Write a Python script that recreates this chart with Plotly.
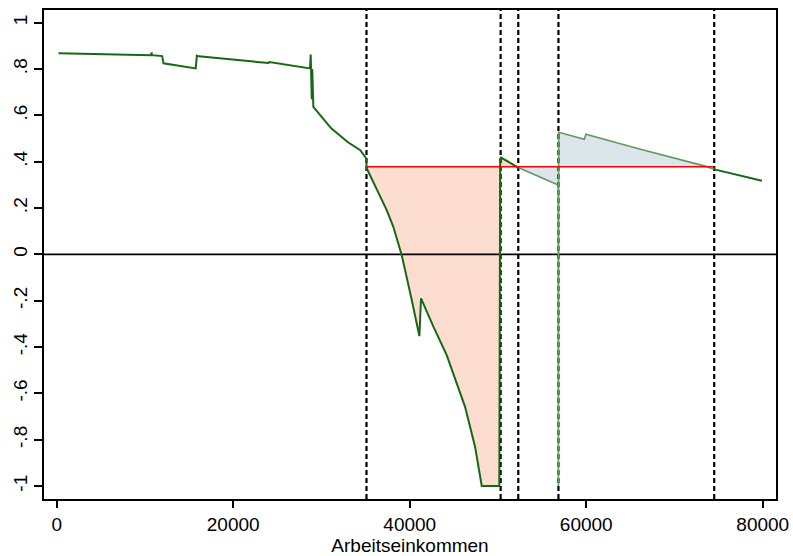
import numpy as np
import plotly.graph_objects as go

# Replacement-rate curve over labour income
income = [200, 5000, 10700, 10750, 10800, 11950, 12100, 15750, 15880, 16100,
          24000, 24100, 28700, 28780, 28820, 28860, 28900, 28950, 29000, 29080,
          31100, 33000, 34400, 35050, 35120, 37390, 38140, 39090, 40230, 41090,
          41280, 42680, 44190, 46270, 47400, 48160, 50150, 50250, 50350, 52100,
          55900, 56820, 56850, 56880, 59780, 59960, 65720, 73460, 74520, 79900]
rate = [0.868, 0.865, 0.860, 0.872, 0.860, 0.856, 0.825, 0.803, 0.858, 0.855,
        0.826, 0.830, 0.803, 0.863, 0.690, 0.840, 0.670, 0.800, 0.660, 0.637,
        0.544, 0.484, 0.450, 0.415, 0.372, 0.191, 0.119, -0.003, -0.197, -0.353,
        -0.190, -0.312, -0.435, -0.658, -0.830, -1.000, -1.000, 0.412, 0.418, 0.378,
        0.314, 0.299, -1.000, 0.527, 0.497, 0.519, 0.458, 0.381, 0.367, 0.318]

# Income thresholds (dashed lines) and reference level
cutoffs = [35100, 50300, 52300, 56850, 74500]
ref_level = 0.378

x_ticks = [0, 20000, 40000, 60000, 80000]
y_ticks = [1, 0.8, 0.6, 0.4, 0.2, 0, -0.2, -0.4, -0.6, -0.8, -1]
y_labels = ["1", ".8", ".6", ".4", ".2", "0", "-.2", "-.4", "-.6", "-.8", "-1"]

X_RANGE = [-1440, 81500]
Y_RANGE = [-1.056, 1.055]

DARK_GREEN = "rgb(22,104,22)"
LIGHT_GREEN = "rgb(95,155,95)"
SALMON = "rgb(253,221,207)"
BLUEGRAY = "rgb(221,229,236)"

xs = np.array(income, dtype=float)
ys = np.array(rate, dtype=float)


def segment(lo, hi):
    """Curve points between lo and hi, with interpolated end points."""
    mask = (xs > lo) & (xs < hi)
    sx = np.concatenate([[lo], xs[mask], [hi]])
    sy = np.concatenate([[np.interp(lo, xs, ys)], ys[mask], [np.interp(hi, xs, ys)]])
    return sx, sy


def line(x, y, color, width, dash=None):
    return go.Scatter(x=x, y=y, mode="lines", hoverinfo="skip", showlegend=False,
                      line=dict(color=color, width=width, dash=dash))


fig = go.Figure()

# Shaded gaps between the curve and the reference level
regions = [(cutoffs[0], cutoffs[2], SALMON, DARK_GREEN),
           (cutoffs[2], cutoffs[4], BLUEGRAY, LIGHT_GREEN)]
for lo, hi, fillc, _ in regions:
    fig.add_trace(line([lo, hi], [ref_level, ref_level], "rgba(0,0,0,0)", 0))
    sx, sy = segment(lo, hi)
    fig.add_trace(go.Scatter(x=sx, y=sy, mode="lines", fill="tonexty",
                             fillcolor=fillc, line=dict(width=0),
                             hoverinfo="skip", showlegend=False))

# Zero line
fig.add_trace(line(X_RANGE, [0, 0], "black", 1.6))

# Threshold markers
for c in cutoffs:
    fig.add_trace(line([c, c], Y_RANGE, "black", 2.2, "5px,3px"))

# Curve: dark outside the blue range, lighter inside it
mask_left = xs < cutoffs[2]
lx = np.concatenate([xs[mask_left], [cutoffs[2]]])
ly = np.concatenate([ys[mask_left], [np.interp(cutoffs[2], xs, ys)]])
fig.add_trace(line(lx, ly, DARK_GREEN, 2))
mx, my = segment(cutoffs[2], cutoffs[4])
fig.add_trace(line(mx, my, LIGHT_GREEN, 1.6))
rx, ry = segment(cutoffs[4], xs[-1])
fig.add_trace(line(rx, ry, DARK_GREEN, 2))

# Reference level line
fig.add_trace(line([cutoffs[0], cutoffs[4]], [ref_level, ref_level], "rgb(255,0,0)", 1.6))

axis_font = dict(family="Liberation Sans, Arial, sans-serif", size=19, color="black")

fig.update_layout(
    width=793, height=556,
    margin=dict(l=44, r=17, t=10, b=57),
    plot_bgcolor="white", paper_bgcolor="white",
    font=axis_font,
    xaxis=dict(range=X_RANGE, tickvals=x_ticks, ticktext=[str(v) for v in x_ticks],
               ticks="outside", ticklen=7, tickwidth=1.5, tickcolor="black",
               showline=True, linecolor="black", linewidth=1.5, mirror=True,
               showgrid=False, zeroline=False, tickfont=axis_font, automargin=False,
               title=dict(text="Arbeitseinkommen", font=axis_font, standoff=2)),
    yaxis=dict(range=Y_RANGE, tickvals=y_ticks, ticktext=y_labels,
               tickangle=-90, ticks="outside", ticklen=8, tickwidth=1.5, tickcolor="black",
               showline=True, linecolor="black", linewidth=1.5, mirror=True,
               showgrid=False, zeroline=False, tickfont=axis_font, automargin=False),
)

fig.write_html("out.html")
